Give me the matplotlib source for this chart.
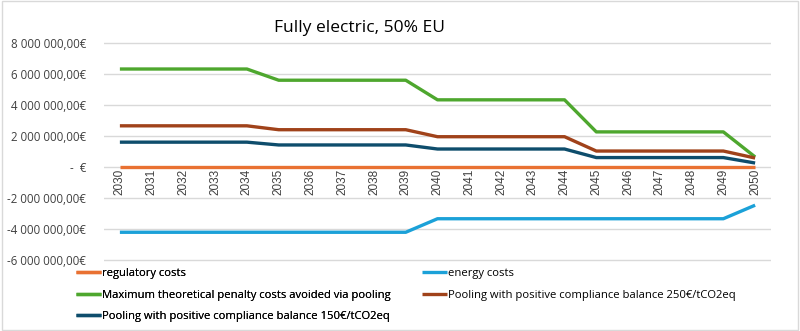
import numpy as np
import matplotlib.pyplot as plt
from matplotlib.patches import Rectangle
from matplotlib.ticker import FuncFormatter

plt.rcParams['font.family'] = ['Open Sans', 'DejaVu Sans']

years = [str(y) for y in range(2030, 2051)]

regulatory = [0.0] * 21
energy = [-4.19e6] * 10 + [-3.32e6] * 10 + [-2.45e6]
max_penalty = [6.30e6] * 5 + [5.58e6] * 5 + [4.32e6] * 5 + [2.26e6] * 5 + [0.65e6]
pool_250 = [2.65e6] * 5 + [2.40e6] * 5 + [1.95e6] * 5 + [1.03e6] * 5 + [0.58e6]
pool_150 = [1.60e6] * 5 + [1.42e6] * 5 + [1.16e6] * 5 + [0.61e6] * 5 + [0.26e6]

series = [
    ('regulatory costs', regulatory, '#E97132'),
    ('energy costs', energy, '#1BA1D8'),
    ('Maximum theoretical penalty costs avoided via pooling', max_penalty, '#4EA72E'),
    ('Pooling with positive compliance balance 250€/tCO2eq', pool_250, '#A0421A'),
    ('Pooling with positive compliance balance 150€/tCO2eq', pool_150, '#0E4D6C'),
]

fig = plt.figure(figsize=(8, 3.31), dpi=100)
ax = fig.add_axes([104/800, 1 - 262/331, (771-104)/800, (262-41)/331])

x = np.arange(len(years))
for label, vals, col in series:
    ax.plot(x, vals, color=col, linewidth=2.4, label=label, solid_capstyle='butt')

ax.set_xlim(-0.5, len(years) - 0.5)
ax.set_ylim(-6.1e6, 8.1e6)
ax.set_yticks(np.arange(-6e6, 8.1e6, 2e6))


def euro(v, pos):
    if abs(v) < 1:
        return '-  €'
    s = f'{abs(v):,.2f}'.replace(',', ' ').replace('.', ',')
    return ('-' if v < 0 else '') + s + '€'


ax.yaxis.set_major_formatter(FuncFormatter(euro))
ax.tick_params(axis='y', length=0, labelsize=8.3, pad=13, colors='#404040')
ax.grid(axis='y', color='#d9d9d9', linewidth=1)
ax.set_axisbelow(True)
for sp in ax.spines.values():
    sp.set_visible(False)

# year labels sit just under the zero line
ax.set_xticks([])
for xi, yr in zip(x, years):
    ax.text(xi, -0.12e6, yr, rotation=90, ha='center', va='top', fontsize=8.5,
            family=['Liberation Sans', 'DejaVu Sans'], color='#404040')

fig.text(0.45, 0.915, 'Fully electric, 50% EU', ha='center', va='center', fontsize=12.5, color='#000000')

handles, labels = ax.get_legend_handles_labels()
leg_kw = dict(loc='upper left', frameon=False, fontsize=8.1, handlelength=2.2,
              handletextpad=0.1, labelspacing=0.95, borderaxespad=0, borderpad=0)
left = fig.legend([handles[i] for i in (0, 2, 4)], [labels[i] for i in (0, 2, 4)],
                  bbox_to_anchor=(76/800, 1 - 268/331), **leg_kw)
fig.legend([handles[i] for i in (1, 3)], [labels[i] for i in (1, 3)],
           bbox_to_anchor=(422/800, 1 - 268/331), **leg_kw)
fig.add_artist(left)

fig.patches.append(Rectangle((0.002, 0.004), 0.996, 0.992, transform=fig.transFigure,
                             fill=False, edgecolor='#d9d9d9', linewidth=1))

fig.savefig('out.png', dpi=100, facecolor='white')
